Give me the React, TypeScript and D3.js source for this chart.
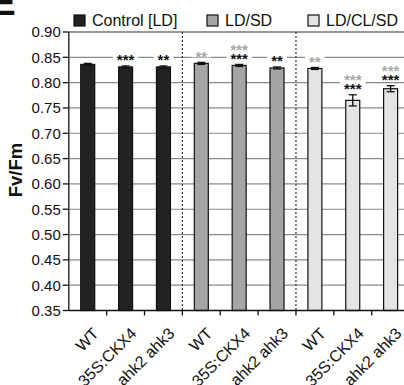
import React from "react";
import * as d3 from "d3";

const groups = ["Control [LD]", "LD/SD", "LD/CL/SD"];
const genotypes = ["WT", "35S:CKX4", "ahk2 ahk3"];
const controlMeans = [0.836, 0.831, 0.831];
const ldsdMeans = [0.838, 0.834, 0.829];
const ldclsdMeans = [0.828, 0.765, 0.788];
const controlErr = [0.002, 0.002, 0.002];
const ldsdErr = [0.002, 0.002, 0.002];
const ldclsdErr = [0.002, 0.011, 0.006];
const blackStars = ["", "***", "**", "", "***", "**", "", "***", "***"];
const grayStars = ["", "", "", "**", "***", "", "**", "***", "***"];
const yTicks = [0.35, 0.4, 0.45, 0.5, 0.55, 0.6, 0.65, 0.7, 0.75, 0.8, 0.85, 0.9];
const groupFills = ["#222222", "#a5a5a5", "#e4e4e4"];

const W = 404;
const H = 385;
const FONT = "'Liberation Sans', Arial, sans-serif";

export default function App() {
  const left = 68.8;
  const step = 37.86;
  const top = 32;
  const bottom = 310.5;
  const y = d3.scaleLinear().domain([0.35, 0.9]).range([bottom, top]);
  const x = d3
    .scaleBand<number>()
    .domain(d3.range(9))
    .range([left, left + step * 9])
    .paddingInner(0)
    .paddingOuter(0);
  const bw = 14;
  const means = [...controlMeans, ...ldsdMeans, ...ldclsdMeans];
  const errs = [...controlErr, ...ldsdErr, ...ldclsdErr];
  const bars = means.map((m, i) => ({
    i,
    m,
    e: errs[i],
    g: Math.floor(i / 3),
    label: genotypes[i % 3],
    cx: (x(i) as number) + x.bandwidth() / 2,
  }));
  const right = left + step * 9;

  const legendX = [74, 207, 308];
  const starW = 5.8;

  return (
    <svg
      width={W}
      height={H}
      style={{ position: "absolute", left: 0, top: 0, background: "#fff" }}
      fontFamily={FONT}
    >
      <rect width={W} height={H} fill="#fff" />
      {/* panel letter fragment */}
      <text x={-9} y={15} fontSize={37} fontWeight="bold" fill="#111">
        E
      </text>
      {/* gridlines */}
      {yTicks.map((t) => (
        <line
          key={t}
          x1={left}
          x2={right}
          y1={y(t)}
          y2={y(t)}
          stroke={t === 0.9 ? "#333" : "#8a8a8a"}
          strokeWidth={1.2}
        />
      ))}
      {/* group separators */}
      {[3, 6].map((i) => (
        <line
          key={i}
          x1={x(i) as number}
          x2={x(i) as number}
          y1={top}
          y2={bottom}
          stroke="#333"
          strokeWidth={1.2}
          strokeDasharray="2,2"
        />
      ))}
      {/* bars */}
      {bars.map((b) => (
        <g key={b.i}>
          <rect
            x={b.cx - bw / 2}
            y={y(b.m)}
            width={bw}
            height={bottom - y(b.m)}
            fill={groupFills[b.g]}
            stroke="#111"
            strokeWidth={1.2}
          />
          <line x1={b.cx} x2={b.cx} y1={y(b.m + b.e)} y2={y(b.m - b.e)} stroke="#111" strokeWidth={1.3} />
          <line x1={b.cx - 4} x2={b.cx + 4} y1={y(b.m + b.e)} y2={y(b.m + b.e)} stroke="#111" strokeWidth={1.3} />
          <line x1={b.cx - 4} x2={b.cx + 4} y1={y(b.m - b.e)} y2={y(b.m - b.e)} stroke="#111" strokeWidth={1.3} />
        </g>
      ))}
      {/* stars */}
      {bars.map((b) => {
        const bs = blackStars[b.i];
        const gs = grayStars[b.i];
        const base = y(b.m + b.e) - 9;
        const items: { s: string; c: string; yc: number }[] = [];
        if (bs) {
          items.push({ s: bs, c: "#111", yc: base });
          if (gs) items.push({ s: gs, c: "#a8a8a8", yc: base - 9 });
        } else if (gs) {
          items.push({ s: gs, c: "#a8a8a8", yc: base });
        }
        return (
          <g key={"s" + b.i}>
            {items.map((it, k) => (
              <g key={k}>
                <rect
                  x={b.cx - (it.s.length * starW) / 2 - 4}
                  y={it.yc - 4}
                  width={it.s.length * starW + 8}
                  height={8}
                  fill="#fff"
                />
                <text
                  x={b.cx}
                  y={it.yc + 8.5}
                  textAnchor="middle"
                  fontSize={15}
                  fontWeight="bold"
                  fill={it.c}
                >
                  {it.s}
                </text>
              </g>
            ))}
          </g>
        );
      })}
      {/* y axis */}
      <line x1={left} x2={left} y1={top} y2={bottom} stroke="#111" strokeWidth={1.3} />
      {yTicks.map((t) => (
        <g key={"yt" + t}>
          <line x1={left - 6} x2={left} y1={y(t)} y2={y(t)} stroke="#111" strokeWidth={1.3} />
          <text x={left - 8} y={y(t)} dy="0.36em" textAnchor="end" fontSize={15} fill="#111">
            {t.toFixed(2)}
          </text>
        </g>
      ))}
      {/* x axis */}
      <line x1={left} x2={right} y1={bottom} y2={bottom} stroke="#111" strokeWidth={1.3} />
      {d3.range(1, 9).map((i) => (
        <line
          key={"xt" + i}
          x1={x(i) as number}
          x2={x(i) as number}
          y1={bottom}
          y2={bottom + 5}
          stroke="#111"
          strokeWidth={1.3}
        />
      ))}
      {bars.map((b) => (
        <text
          key={"xl" + b.i}
          transform={`translate(${b.cx + 4},${bottom + 16}) rotate(-45)`}
          textAnchor="end"
          dy="0.71em"
          fontSize={16}
          fill="#111"
        >
          {b.label}
        </text>
      ))}
      {/* y title */}
      <text
        transform={`translate(22,${170}) rotate(-90)`}
        textAnchor="middle"
        fontSize={18.5}
        fontWeight="bold"
        fill="#111"
      >
        Fv/Fm
      </text>
      {/* legend */}
      {groups.map((g, k) => (
        <g key={g}>
          <rect x={legendX[k]} y={15} width={11} height={11} fill={groupFills[k]} stroke="#111" strokeWidth={1.2} />
          <text x={legendX[k] + 18} y={26} fontSize={16} fill="#111">
            {g}
          </text>
        </g>
      ))}
    </svg>
  );
}
